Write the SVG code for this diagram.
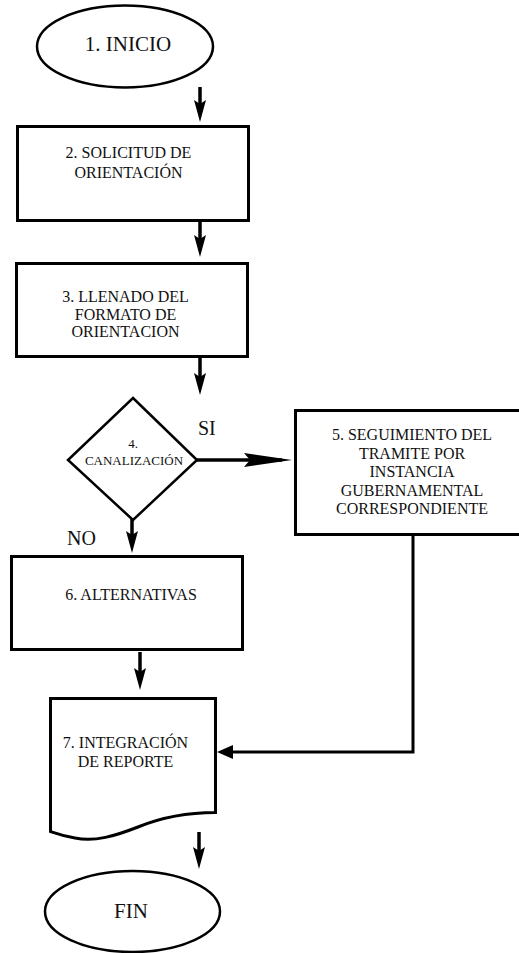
<svg xmlns="http://www.w3.org/2000/svg" width="519" height="953" viewBox="0 0 519 953">
  <defs>
    <style>
      .shape { fill: #ffffff; stroke: #000000; stroke-width: 3; }
      .thin { fill: #ffffff; stroke: #000000; stroke-width: 2.5; }
      .link { fill: none; stroke: #000000; stroke-width: 3.5; }
      .wire { fill: none; stroke: #000000; stroke-width: 3; }
      .lbl { font-family: 'Liberation Serif', 'DejaVu Serif', serif; fill: #111111; text-anchor: middle; }
      .body { font-size: 16px; }
      .small { font-size: 13px; }
      .big { font-size: 21px; }
      .tag { font-size: 20px; text-anchor: start; }
    </style>
    <!-- narrow stealth head used on the vertical flow arrows -->
    <marker id="head" markerUnits="userSpaceOnUse" viewBox="-14 -8 26 16" markerWidth="26" markerHeight="16" refX="0" refY="0" orient="auto" overflow="visible">
      <path d="M-12,-6 L10,0 L-12,6 L-8,0 Z" fill="#000000"/>
    </marker>
    <!-- long stealth head on the SI branch -->
    <marker id="longHead" markerUnits="userSpaceOnUse" viewBox="-40 -9 52 18" markerWidth="52" markerHeight="18" refX="0" refY="0" orient="auto" overflow="visible">
      <path d="M-38,-7 L10,0 L-38,7 L-32,0 Z" fill="#000000"/>
    </marker>
    <!-- short solid head on the return line -->
    <marker id="solidHead" markerUnits="userSpaceOnUse" viewBox="-8 -8 20 16" markerWidth="20" markerHeight="16" refX="0" refY="0" orient="auto" overflow="visible">
      <path d="M-6,-7 L10,0 L-6,7 Z" fill="#000000"/>
    </marker>
  </defs>

  <rect x="0" y="0" width="519" height="953" fill="#ffffff"/>

  <g id="connectors">
    <line class="link" x1="200" y1="87" x2="200" y2="112" marker-end="url(#head)"/>
    <line class="link" x1="200" y1="222" x2="200" y2="247" marker-end="url(#head)"/>
    <line class="link" x1="200" y1="358" x2="200" y2="385" marker-end="url(#head)"/>
    <line class="link" x1="197" y1="460" x2="282" y2="460" marker-end="url(#longHead)"/>
    <line class="link" x1="132" y1="519" x2="132" y2="543" marker-end="url(#head)"/>
    <line class="link" x1="140" y1="652" x2="140" y2="680" marker-end="url(#head)"/>
    <polyline class="wire" points="413,536 413,752 227,752" marker-end="url(#solidHead)"/>
    <line class="link" x1="199" y1="832" x2="199" y2="859" marker-end="url(#head)"/>
  </g>

  <g id="n1-inicio">
    <ellipse class="thin" cx="125" cy="46.5" rx="88" ry="41"/>
    <text class="lbl big" x="128" y="51">1. INICIO</text>
  </g>

  <g id="n2-solicitud">
    <rect class="shape" x="17.5" y="126.5" width="231" height="94"/>
    <text class="lbl body" x="128.5" y="158">2. SOLICITUD DE</text>
    <text class="lbl body" x="128.5" y="178">ORIENTACIÓN</text>
  </g>

  <g id="n3-llenado">
    <rect class="shape" x="16.5" y="263.5" width="231" height="93"/>
    <text class="lbl body" x="125.5" y="302">3. LLENADO DEL</text>
    <text class="lbl body" x="125.5" y="319.5">FORMATO DE</text>
    <text class="lbl body" x="125.5" y="337">ORIENTACION</text>
  </g>

  <g id="n4-canalizacion">
    <polygon class="thin" points="133,398 197,460 133,520 68,460"/>
    <text class="lbl small" x="133" y="448">4.</text>
    <text class="lbl small" x="134" y="465">CANALIZACIÓN</text>
    <text class="lbl tag" x="198" y="435">SI</text>
    <text class="lbl tag" x="67" y="545">NO</text>
  </g>

  <g id="n5-seguimiento">
    <rect class="shape" x="295.5" y="410.5" width="240" height="124"/>
    <text class="lbl body" x="412" y="440">5. SEGUIMIENTO DEL</text>
    <text class="lbl body" x="412" y="458.5">TRAMITE POR</text>
    <text class="lbl body" x="412" y="477">INSTANCIA</text>
    <text class="lbl body" x="412" y="495.5">GUBERNAMENTAL</text>
    <text class="lbl body" x="412" y="514">CORRESPONDIENTE</text>
  </g>

  <g id="n6-alternativas">
    <rect class="shape" x="11.5" y="556.5" width="231" height="93"/>
    <text class="lbl body" x="131" y="600">6. ALTERNATIVAS</text>
  </g>

  <g id="n7-reporte">
    <path class="shape" d="M50.5,698.5 H215.5 V812.5 C185,812.5 160,818 138,827 C115,836 95,842 75,838 C63,836 55,833 50.5,831.5 Z"/>
    <text class="lbl body" x="125.5" y="748">7. INTEGRACIÓN</text>
    <text class="lbl body" x="125.5" y="767">DE REPORTE</text>
  </g>

  <g id="n8-fin">
    <ellipse class="thin" cx="132.5" cy="911.5" rx="87.5" ry="40.5"/>
    <text class="lbl big" x="131" y="918">FIN</text>
  </g>
</svg>
